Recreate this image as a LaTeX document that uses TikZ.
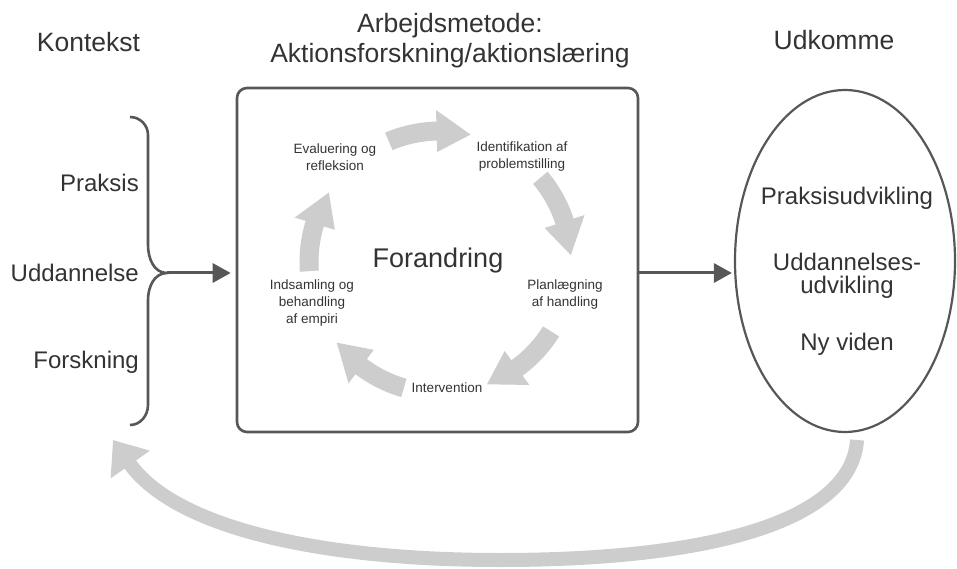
\documentclass[tikz,border=0pt]{standalone}
\usepackage{fontspec}
\setmainfont{Liberation Sans}
\usetikzlibrary{shapes.geometric,arrows.meta,calc}
\definecolor{txt}{HTML}{333333}
\definecolor{ln}{HTML}{575757}
\definecolor{fat}{HTML}{CDCDCD}
% curved fat arrow on the inner cycle: #1 start angle, #2 tip angle (clockwise)
\newcommand\cycarrow[2]{%
  \fill[fat] ($(C)+(#1:140.5pt)$) arc[start angle=#1, end angle=#2+15, radius=140.5pt]
    -- ($(C)+(#2+15:152pt)$) -- ($(C)+(#2:131pt)$) -- ($(C)+(#2+15:110pt)$)
    -- ($(C)+(#2+15:121.5pt)$) arc[start angle=#2+15, end angle=#1, radius=121.5pt] -- cycle;}
\begin{document}
\begin{tikzpicture}[x=1pt,y=1pt,
  hdr/.style={font=\fontsize{26.5}{31}\selectfont, text=txt, inner sep=0, anchor=base},
  lbl/.style={font=\fontsize{24}{28}\selectfont, text=txt, inner sep=0},
  cyc/.style={font=\fontsize{13.5}{17}\selectfont, text=txt, align=center, inner sep=0},
  conn/.style={draw=ln, line width=3pt, -{Triangle[length=18pt,width=19pt]}},
  frame/.style={draw=ln, line width=2.6pt}]
\useasboundingbox (0,0) rectangle (957,568);

% headers
\node[hdr] (kon) at (88.5,516) {Kontekst};
\node[hdr] (arb1) at (450,535) {Arbejdsmetode:};
\node[hdr] (arb2) at (450,505) {Aktionsforskning/aktionslæring};
\node[hdr] (udk) at (834,518) {Udkomme};

% left labels
\node[lbl, anchor=base east] (pra) at (139,376) {Praksis};
\node[lbl, anchor=base east] (udd) at (139,287) {Uddannelse};
\node[lbl, anchor=base east] (for) at (139,200) {Forskning};

% brace
\coordinate (bt) at (167,295);
\draw[ln, line width=2.6pt] (130,451) to[out=0,in=90] (148,433) -- (148,323)
  to[out=-90,in=180] (bt) to[out=180,in=90] (148,268) -- (148,163)
  to[out=-90,in=0] (130,143);

% central box
\node[frame, rounded corners=10pt, minimum width=401pt, minimum height=344pt, inner sep=0] (box) at (437.5,308) {};

% outcome ellipse
\node[ellipse, frame, line width=2.2pt, minimum width=220pt, minimum height=342pt, inner sep=0] (ell) at (845,307) {};
\node[lbl, anchor=base] (e1) at (847,363) {Praksisudvikling};
\node[lbl, anchor=base] (e2) at (847,298) {Uddannelses-};
\node[lbl, anchor=base] (e3) at (847,275) {udvikling};
\node[lbl, anchor=base] (e4) at (847,218) {Ny viden};

% connectors
\draw[conn, shorten >=5pt] (bt) -- (bt -| box.west);
\draw[conn, shorten >=2pt] (bt -| box.east) -- (bt -| ell.west);

% inner cycle
\coordinate (C) at (440,306);
\cycarrow{113}{76.5}
\cycarrow{40}{3}
\cycarrow{-32}{-69}
\cycarrow{254}{218}
\cycarrow{184}{148}

\node[cyc] (c1) at (335,411) {Evaluering og\\refleksion};
\node[cyc] (c2) at (522,411) {Identifikation af\\problemstilling};
\node[cyc] (c3) at (565,273) {Planlægning\\af handling};
\node[cyc] (c4) at (447,180) {Intervention};
\node[cyc] (c5) at (312,265) {Indsamling og\\behandling\\af empiri};
\node[font=\fontsize{27}{30}\selectfont, text=txt, inner sep=0, anchor=base] (fo) at (438,300) {Forandring};

% big return arrow
\coordinate (S) at (857,128);
\coordinate (T) at (113,128);
\draw[fat, line width=14pt, -{Triangle[length=30pt,width=46pt]}] (S) .. controls (852,50) and (720,8) .. (500,8) .. controls (320,8) and (175,40) .. (T);
\end{tikzpicture}
\end{document}
